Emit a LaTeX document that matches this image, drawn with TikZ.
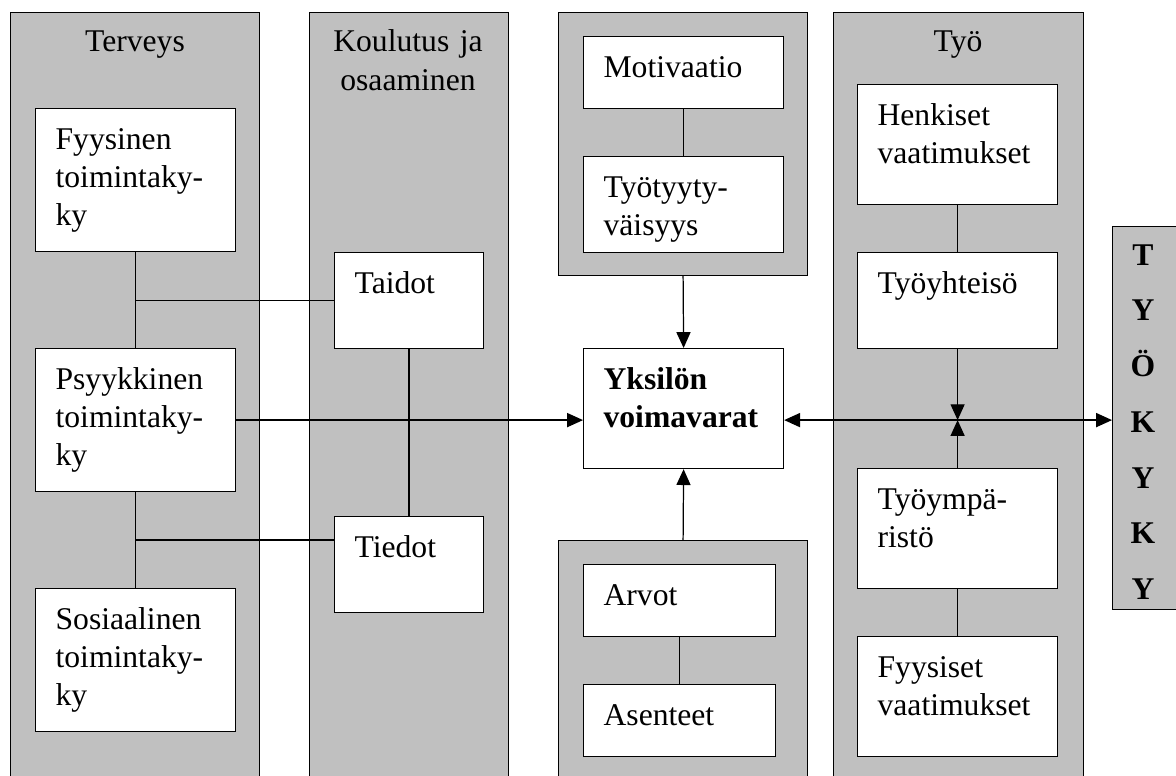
\documentclass[tikz,border=0pt]{standalone}
\usepackage{fontspec}
\setmainfont{Liberation Serif}
\usepackage{tikz}
\usetikzlibrary{arrows.meta, positioning, calc}
\definecolor{panelgray}{RGB}{192, 192, 192}
\tikzset{
  panel/.style={draw, fill=panelgray, line width=0.7pt, anchor=north west, inner sep=0pt, minimum width=4.98cm},
  title/.style={anchor=base, align=center, font=\fontsize{18}{21.7}\selectfont},
  item/.style={draw, fill=white, line width=0.7pt, anchor=north west, align=left, inner xsep=0.4cm, inner ysep=0.4cm,
    text width=3.2cm, text height=0.42cm, font=\fontsize{18}{21.7}\selectfont},
  tallbox/.style={text depth=1.64cm},
  midbox/.style={text depth=1.18cm},
  lowbox/.style={text depth=0.70cm},
  flatbox/.style={text depth=0.22cm},
  link/.style={line width=0.7pt},
  >={Triangle[length=9pt, width=8pt]}
}

\begin{document}
\begin{tikzpicture}[x=0.02cm, y=-0.02cm]
  \clip (0, 0) rectangle (1176, 776);

  % Grey panels
  \node[panel, minimum height=15.76cm] (terv) at (10, 12) {};
  \node[panel, minimum width=3.98cm, minimum height=15.76cm] (koul) at (309, 12) {};
  \node[panel, minimum height=5.26cm] (motpanel) at (558, 12) {};
  \node[panel, minimum height=5.2cm] (arvpanel) at (558, 540) {};
  \node[panel, minimum width=5cm, minimum height=15.76cm] (tyo) at (833, 12) {};
  \node[panel, minimum width=1.6cm, minimum height=7.66cm] (kyky) at (1112, 226) {};

  % Panel titles
  \node[title] (tervlbl) at (135, 52) {Terveys};
  \node[title, text width=3.6cm] (koullbl) at (408, 52) {Koulutus ja\\osaaminen};
  \node[title] (tyolbl) at (958, 52) {Työ};
  \node[align=center, font=\fontsize{18}{31.7}\selectfont\bfseries] (kykytxt) at (1143, 422) {T\\Y\\Ö\\K\\Y\\K\\Y};

  % Terveys
  \node[item, tallbox] (fyys) at (35, 108) {Fyysinen\\toimintaky-\\ky};
  \node[item, tallbox] (psyk) at (35, 348) {Psyykkinen\\toimintaky-\\ky};
  \node[item, tallbox] (sos) at (35, 588) {Sosiaalinen\\toimintaky-\\ky};

  % Koulutus ja osaaminen
  \node[item, lowbox, text width=2.18cm] (taidot) at (334, 252) {Taidot};
  \node[item, lowbox, text width=2.18cm] (tiedot) at (334, 516) {Tiedot};

  % Middle column
  \node[item, flatbox] (motiv) at (583, 36) {Motivaatio};
  \node[item, lowbox] (tyyt) at (583, 156) {Työtyyty-\\väisyys};
  \node[item, midbox, font=\fontsize{18}{21.7}\selectfont\bfseries] (yks) at (583, 348) {Yksilön\\voimavarat};
  \node[item, flatbox, text width=3.04cm] (arvot) at (583, 564) {Arvot};
  \node[item, flatbox, text width=3.04cm] (asent) at (583, 684) {Asenteet};

  % Työ
  \node[item, midbox] (henk) at (857, 84) {Henkiset\\vaatimukset};
  \node[item, lowbox] (yhteis) at (857, 252) {Työyhteisö};
  \node[item, midbox] (ymp) at (857, 468) {Työympä-\\ristö};
  \node[item, midbox] (fyysv) at (857, 636) {Fyysiset\\vaatimukset};

  % Connectors
  \draw[link] (fyys.south) -- (psyk.north);
  \draw[link] (psyk.south) -- (sos.north);
  \draw[link] (fyys.south |- taidot.west) -- (taidot.west);
  \coordinate (tiedin) at ([yshift=-0.48cm]tiedot.north west);
  \draw[link] (psyk.south |- tiedin) -- (tiedin);
  \draw[link] (taidot.south) -- (tiedot.north);
  \draw[link, ->] (psyk.east) -- (psyk.east -| yks.west);

  \draw[link] (motiv.south) -- (tyyt.north);
  \draw[link, ->] (motpanel.south) -- (yks.north);
  \draw[link, ->] (arvpanel.north) -- (yks.south);
  \draw[link] (arvot.south) -- (asent.north);

  \draw[link] (henk.south) -- (yhteis.north);
  \coordinate (meet) at (yhteis.south |- psyk.east);
  \draw[link, ->] (yhteis.south) -- (meet);
  \draw[link, ->] (ymp.north) -- (meet);
  \draw[link] (ymp.south) -- (fyysv.north);
  \draw[link, <->] (yks.east |- meet) -- (kyky.west |- meet);
\end{tikzpicture}
\end{document}
